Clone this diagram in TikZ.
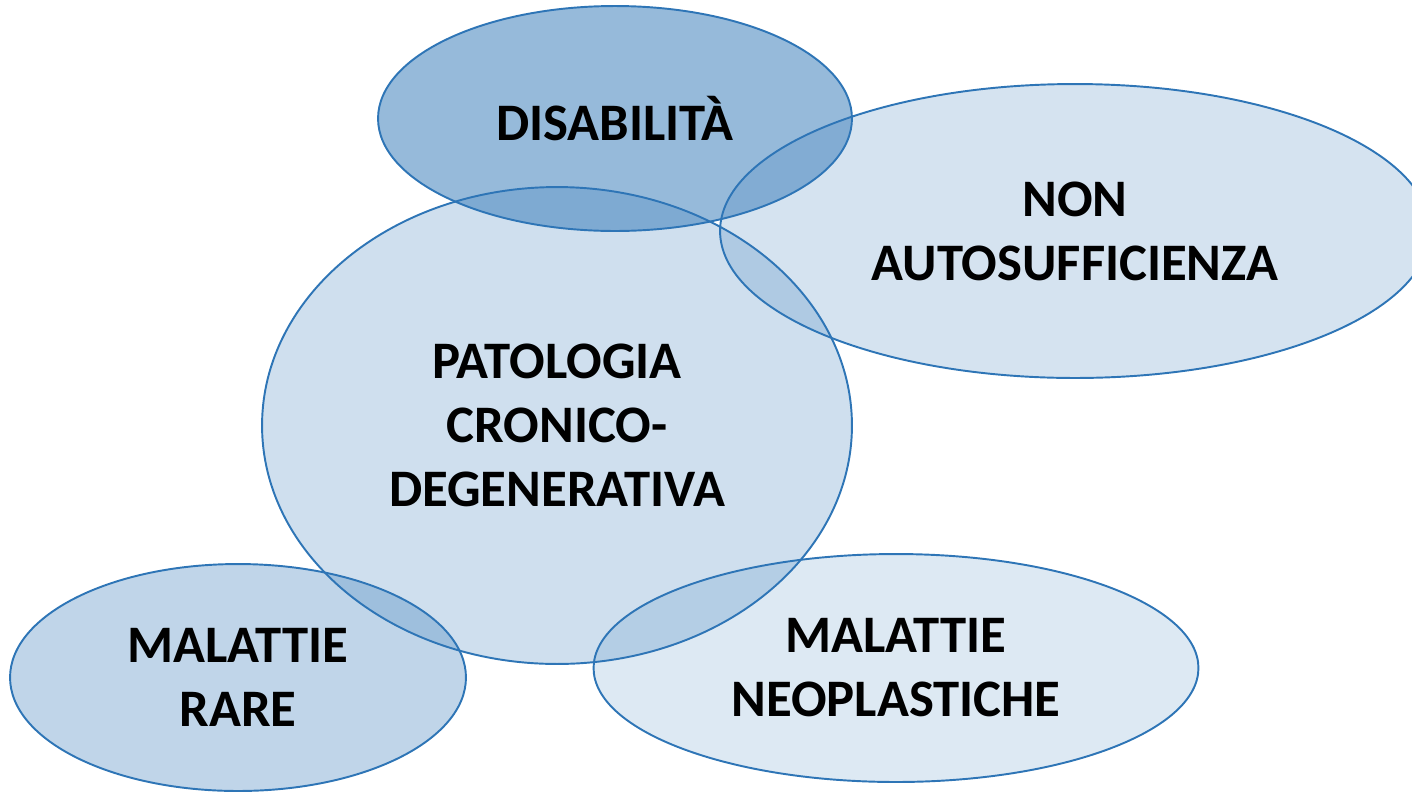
\documentclass[tikz,border=0pt]{standalone}
\usepackage{fontspec}
\setmainfont{Carlito}
\usetikzlibrary{shapes.geometric}
\definecolor{edgeblue}{HTML}{2E75B6}
\tikzset{
 area/.style={ellipse,draw=edgeblue,line width=1.1pt,fill=edgeblue,text opacity=1,
  inner sep=0pt,align=center,font=\fontsize{30}{36.5}\selectfont\bfseries},
}
\begin{document}
\begin{tikzpicture}[x=0.02cm,y=-0.02cm]
\useasboundingbox (0,0) rectangle (1412,792);
\clip (0,0) rectangle (1412,792);
\node[area,fill opacity=0.3,minimum width=9.12cm,minimum height=4.54cm] (rare) at (238,677.5) {MALATTIE\\RARE};
\node[area,fill opacity=0.5,minimum width=9.48cm,minimum height=4.5cm] (disab) at (615,118.5) {DISABILITÀ};
\node[area,fill opacity=0.23,minimum width=11.8cm,minimum height=9.54cm] (patol) at (557,425.5) {PATOLOGIA\\CRONICO-\\DEGENERATIVA};
\node[area,fill opacity=0.16,minimum width=12.1cm,minimum height=4.56cm] (neopl) at (896,668) {MALATTIE\\NEOPLASTICHE};
\node[area,fill opacity=0.2,minimum width=14.2cm,minimum height=5.88cm] (nonauto) at (1075,231) {NON\\AUTOSUFFICIENZA};
\end{tikzpicture}
\end{document}
